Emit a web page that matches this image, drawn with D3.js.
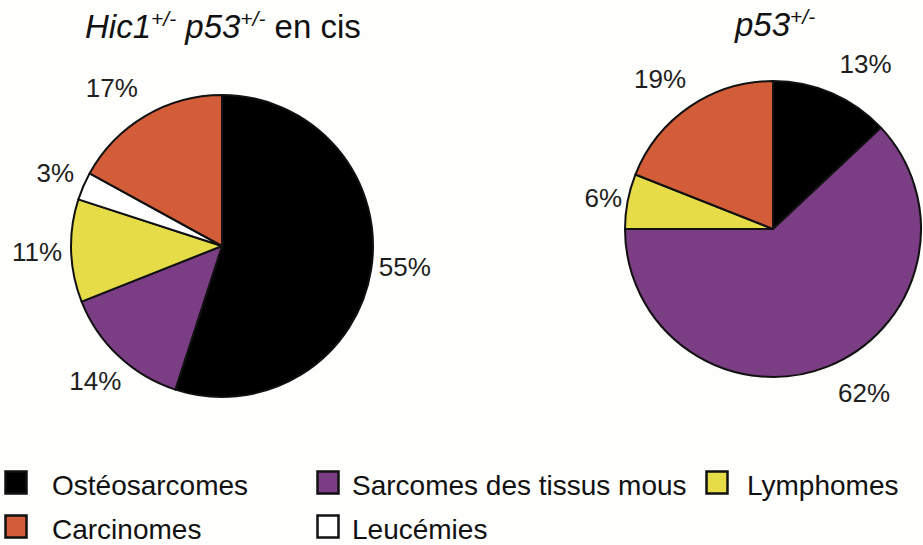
<!DOCTYPE html>
<html>
<head>
<meta charset="utf-8">
<script src="https://cdn.jsdelivr.net/npm/d3@7"></script>
<style>
  html, body { margin: 0; padding: 0; background: #fefefc; }
  svg { display: block; font-family: "Liberation Sans", Arial, sans-serif; }
</style>
</head>
<body>
<svg id="chart" width="923" height="545"></svg>
<script>
// Tumour types and their colours
const categories = ["Ostéosarcomes", "Sarcomes des tissus mous", "Lymphomes", "Leucémies", "Carcinomes"];
const colors = ["#000000", "#7b3d84", "#e6dc48", "#ffffff", "#d25d38"];

// Share of each tumour type (%) per genotype, in category order
const hicP53Values = [55, 14, 11, 3, 17];
const p53Values = [13, 62, 6, 0, 19];

// Legend layout order (two rows)
const legendRows = [
  ["Ostéosarcomes", "Sarcomes des tissus mous", "Lymphomes"],
  ["Carcinomes", "Leucémies"]
];

const svg = d3.select("#chart");
const color = d3.scaleOrdinal().domain(categories).range(colors);

const pie = d3.pie().sort(null).value(d => d.value);

function drawPie(values, cx, cy, r, labelR, nudges) {
  const data = categories.map((c, i) => ({ cat: c, value: values[i] }));
  const arcs = pie(data).filter(a => a.data.value > 0);
  const arc = d3.arc().innerRadius(0).outerRadius(r);
  const g = svg.append("g").attr("transform", `translate(${cx},${cy})`);

  g.selectAll("path.slice")
    .data(arcs)
    .join("path")
    .attr("class", "slice")
    .attr("d", arc)
    .attr("fill", d => color(d.data.cat))
    .attr("stroke", "#111")
    .attr("stroke-width", 2)
    .attr("stroke-linejoin", "round");

  // percentage labels sit just outside each slice, with small hand nudges
  const labelArc = d3.arc().innerRadius(labelR).outerRadius(labelR);
  g.selectAll("text.pct")
    .data(arcs)
    .join("text")
    .attr("class", "pct")
    .attr("transform", d => {
      const [x, y] = labelArc.centroid(d);
      const n = nudges[d.data.cat] || [0, 0];
      return `translate(${x + n[0]},${y + n[1]})`;
    })
    .attr("text-anchor", "middle")
    .attr("dominant-baseline", "central")
    .attr("font-size", 26)
    .attr("fill", "#1e1e1e")
    .text(d => d.data.value + "%");
}

drawPie(hicP53Values, 222, 246, 151, 185, {
  "Carcinomes": [-16, 1],
  "Ostéosarcomes": [0, -8],
  "Leucémies": [3, 0]
});
drawPie(p53Values, 773, 229, 148, 185, {
  "Ostéosarcomes": [19, 5],
  "Sarcomes des tissus mous": [23, -8],
  "Lymphomes": [12, 4],
  "Carcinomes": [-9, 3]
});

// Titles with italic gene names and superscript genotypes
function title(x, y, parts) {
  const t = svg.append("text")
    .attr("x", x).attr("y", y)
    .attr("font-size", 33)
    .attr("fill", "#111");
  parts.forEach(p => {
    const s = t.append("tspan").text(p.text);
    if (p.italic) s.attr("font-style", "italic");
    if (p.sup) s.attr("font-size", 21).attr("dy", -12);
    if (p.after) s.attr("dy", 12);
  });
}
title(85, 38, [
  { text: "Hic1", italic: true },
  { text: "+/-", italic: true, sup: true },
  { text: " p53", italic: true, after: true },
  { text: "+/-", italic: true, sup: true },
  { text: " en cis", after: true }
]);
title(735, 36, [
  { text: "p53", italic: true },
  { text: "+/-", italic: true, sup: true }
]);

// Legend
const legendX = { "Ostéosarcomes": 4, "Carcinomes": 4, "Sarcomes des tissus mous": 316, "Leucémies": 316, "Lymphomes": 705 };
const legendTextX = { "Ostéosarcomes": 48, "Carcinomes": 48, "Sarcomes des tissus mous": 36, "Leucémies": 36, "Lymphomes": 42 };
const legendY = [470, 514];
legendRows.forEach((row, ri) => {
  row.forEach(cat => {
    const g = svg.append("g").attr("transform", `translate(${legendX[cat]},${legendY[ri]})`);
    g.append("rect")
      .attr("x", 1.5).attr("y", 1.5)
      .attr("width", 21).attr("height", 22)
      .attr("fill", color(cat))
      .attr("stroke", "#111")
      .attr("stroke-width", 2.5);
    g.append("text")
      .attr("x", legendTextX[cat])
      .attr("y", 24.5)
      .attr("font-size", 28)
      .attr("fill", "#111")
      .text(cat);
  });
});
</script>
</body>
</html>
